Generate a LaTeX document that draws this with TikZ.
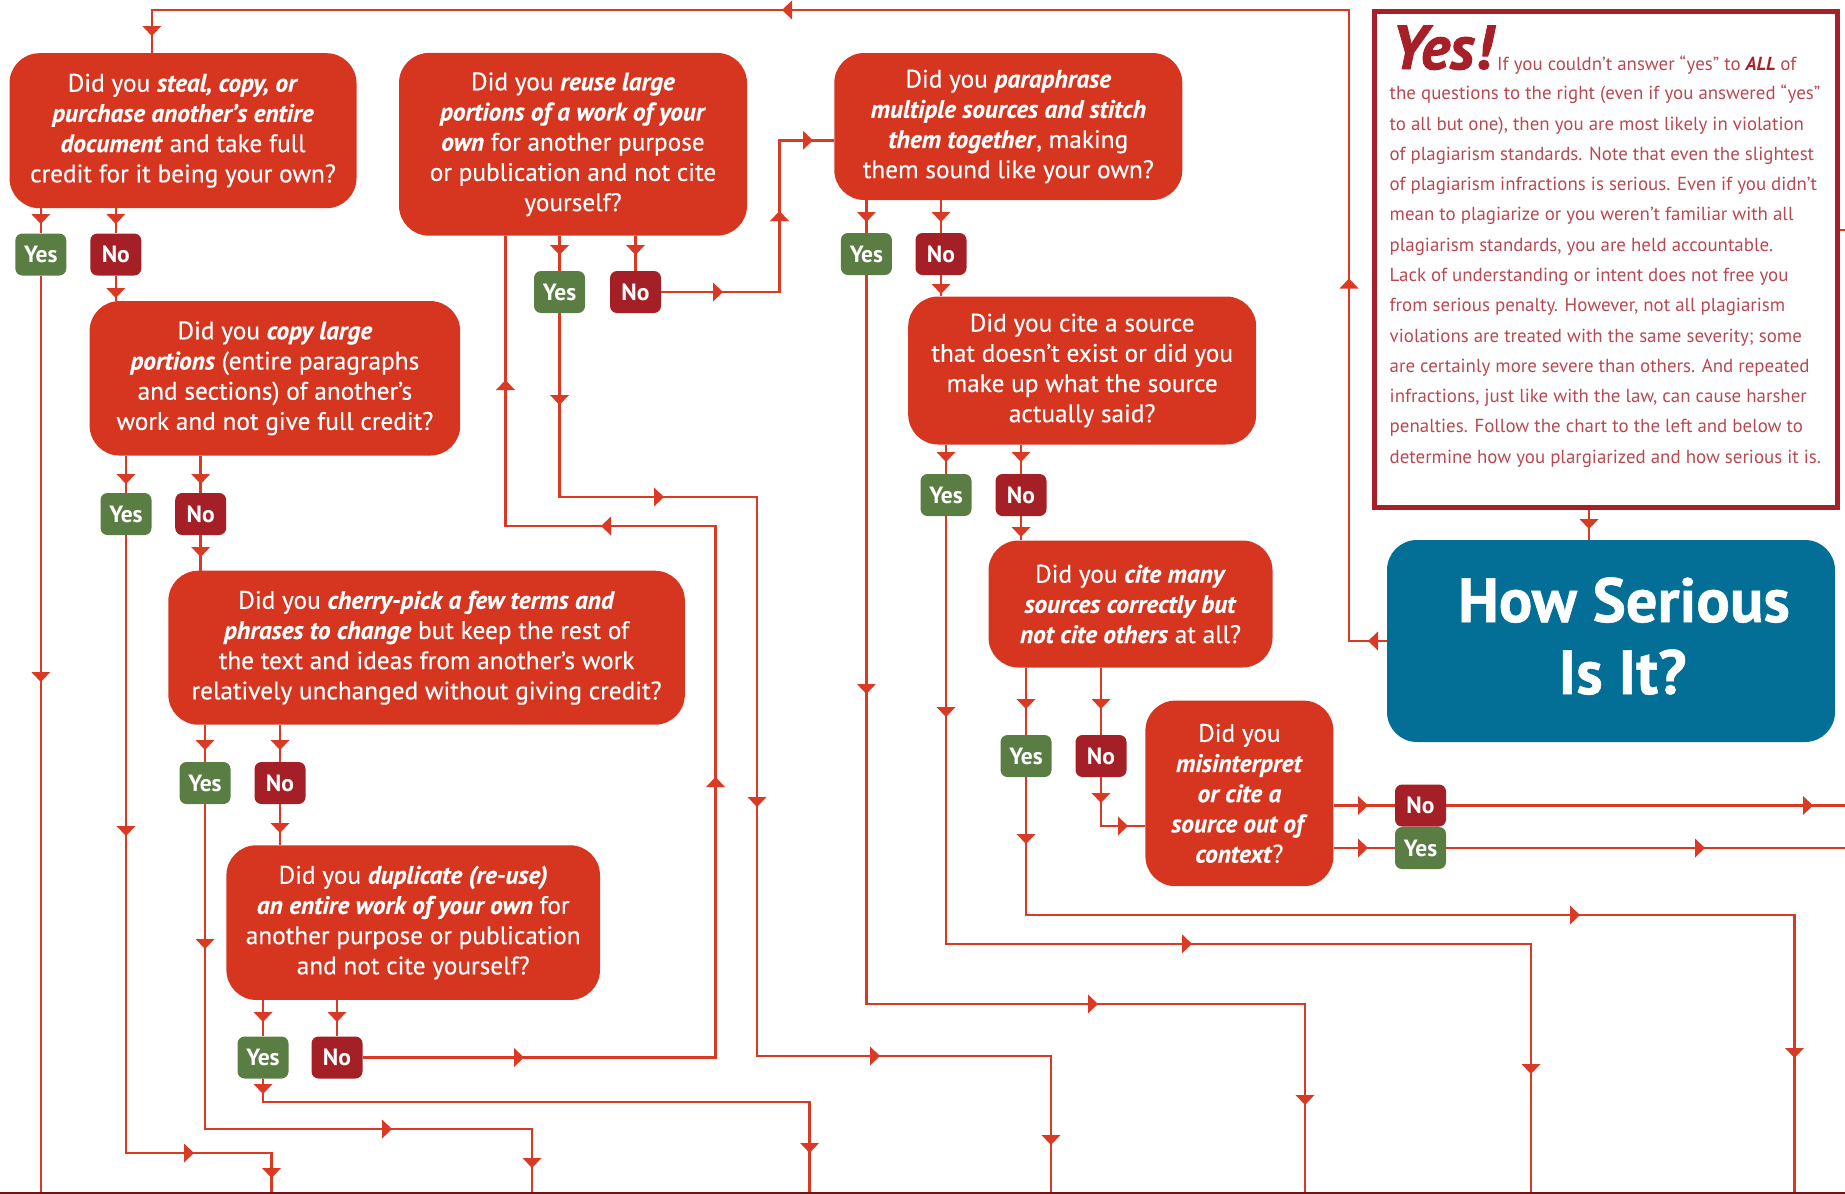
\documentclass[tikz,border=0pt]{standalone}
\usepackage{fontspec}
\setmainfont{PT Sans}
\definecolor{qred}{RGB}{214,53,32}
\definecolor{lred}{RGB}{218,58,36}
\definecolor{ygreen}{RGB}{90,125,68}
\definecolor{nred}{RGB}{164,31,38}
\definecolor{sblue}{RGB}{3,111,150}
\definecolor{bred}{RGB}{167,32,39}
\definecolor{ptext}{RGB}{184,72,82}
\definecolor{bdark}{RGB}{110,20,20}
\newcommand{\bi}[1]{\textbf{\textit{#1}}}
\tikzset{
  tipR/.pic={\fill[lred] (0,0) -- (-10,9.5) -- (-10,-9.5) -- cycle;}
}
\newcommand\tipD[1]{\pic[rotate=-90] at #1 {tipR};}
\newcommand\tipU[1]{\pic[rotate=90] at #1 {tipR};}
\newcommand\tipL[1]{\pic[rotate=180] at #1 {tipR};}
\newcommand\tipRt[1]{\pic at #1 {tipR};}
\begin{document}
\begin{tikzpicture}[x=1pt,y=-1pt,
  qbox/.style={rectangle, rounded corners=30pt, fill=qred, text=white, align=center, inner sep=0pt, font=\fontsize{25.3}{30.2}\selectfont\addfontfeature{FakeBold=0.3}},
  ans/.style={rectangle, rounded corners=7pt, minimum width=51pt, minimum height=42pt, inner sep=0pt, text=white, font=\fontsize{23.5}{26}\selectfont\bfseries},
  yesb/.style={ans, fill=ygreen},
  nob/.style={ans, fill=nred},
  conn/.style={draw=lred, line width=2.5pt},
  ptxt/.style={text=ptext, inner sep=0pt, font=\fontsize{18.9}{30.3}\selectfont},
  titletxt/.style={text=white, inner sep=0pt, font=\fontsize{62.5}{72}\selectfont\bfseries\addfontfeature{FakeBold=0.8}},
]
\useasboundingbox (0,0) rectangle (1845,1194);
\coordinate (bot) at (0,1194);
\coordinate (rt) at (1845,0);

% question boxes
\node[qbox, minimum width=347pt, minimum height=155pt] (q1) at (183,130.7)
  {Did you \bi{steal, copy, or}\\ \bi{purchase another’s entire}\\ \bi{document} and take full\\ credit for it being your own?};
\node[qbox, minimum width=370.6pt, minimum height=154.5pt] (q2) at (274.9,378.3)
  {Did you \bi{copy large}\\ \bi{portions} (entire paragraphs\\ and sections) of another’s\\ work and not give full credit?};
\node[qbox, minimum width=516.5pt, minimum height=154pt] (q3) at (426.6,647.7)
  {Did you \bi{cherry-pick a few terms and}\\ \bi{phrases to change} but keep the rest of\\ the text and ideas from another’s work\\ relatively unchanged without giving credit?};
\node[qbox, minimum width=373.6pt, minimum height=154.7pt] (q4) at (413.2,922.6)
  {Did you \bi{duplicate (re-use)}\\ \bi{an entire work of your own} for\\ another purpose or publication\\ and not cite yourself?};
\node[qbox, minimum width=348pt, minimum height=182.7pt] (q5) at (573,144.3)
  {Did you \bi{reuse large}\\ \bi{portions of a work of your}\\ \bi{own} for another purpose\\ or publication and not cite\\ yourself?};
\node[qbox, minimum width=348pt, minimum height=147pt] (q6) at (1008.3,126.5)
  {Did you \bi{paraphrase}\\ \bi{multiple sources and stitch}\\ \bi{them together}, making\\ them sound like your own?};
\node[qbox, minimum width=348pt, minimum height=148pt] (q7) at (1082.2,370.5)
  {Did you cite a source\\ that doesn’t exist or did you\\ make up what the source\\ actually said?};
\node[qbox, minimum width=284pt, minimum height=127pt] (q8) at (1130.5,604)
  {Did you \bi{cite many}\\ \bi{sources correctly but}\\ \bi{not cite others} at all?};
\node[qbox, minimum width=188pt, minimum height=185.6pt] (q9) at (1239.4,793.4)
  {Did you\\ \bi{misinterpret}\\ \bi{or cite a}\\ \bi{source out of}\\ \bi{context}?};

% answer boxes
\node[yesb] (yes1) at (40.8,254.5) {Yes};
\node[nob]  (no1)  at (115.8,254.5) {No};
\node[yesb] (yes2) at (126,514) {Yes};
\node[nob]  (no2)  at (200.7,514) {No};
\node[yesb] (yes3) at (205,783) {Yes};
\node[nob]  (no3)  at (280,783) {No};
\node[yesb] (yes4) at (263,1057.5) {Yes};
\node[nob]  (no4)  at (337,1057.5) {No};
\node[yesb] (yes5) at (559.5,292) {Yes};
\node[nob]  (no5)  at (635.5,292) {No};
\node[yesb] (yes6) at (866.4,254) {Yes};
\node[nob]  (no6)  at (941,254) {No};
\node[yesb] (yes7) at (946,495) {Yes};
\node[nob]  (no7)  at (1021,495) {No};
\node[yesb] (yes8) at (1026,756) {Yes};
\node[nob]  (no8)  at (1101,756) {No};
\node[nob]  (no9)  at (1420.5,805.5) {No};
\node[yesb] (yes9) at (1420.5,848) {Yes};

% info box
\node[draw=bred, line width=5pt, minimum width=463pt, minimum height=496pt, inner sep=0pt] (info) at (1606,259.5) {};
\node[anchor=base west, inner sep=0pt, text=bred, font=\fontsize{62}{64}\selectfont\bfseries\itshape\addfontfeature{FakeBold=1.6}] (yesw) at (1391,69) {Yes!};
\node[ptxt, anchor=base west] (p1) at (1497,70) {If you couldn’t answer “yes” to {\color{bred}\bi{ALL}} of};
\foreach \t [count=\i from 2] in {
  {the questions to the right (even if you answered “yes”},
  {to all but one), then you are most likely in violation},
  {of plagiarism standards. Note that even the slightest},
  {of plagiarism infractions is serious. Even if you didn’t},
  {mean to plagiarize or you weren’t familiar with all},
  {plagiarism standards, you are held accountable.},
  {Lack of understanding or intent does not free you},
  {from serious penalty. However, not all plagiarism},
  {violations are treated with the same severity; some},
  {are certainly more severe than others. And repeated},
  {infractions, just like with the law, can cause harsher},
  {penalties. Follow the chart to the left and below to},
  {determine how you plargiarized and how serious it is.}}
  \node[ptxt, anchor=base west] (p\i) at (1389.5,{69.5+30.28*(\i-1)}) {\t};

% title box
\node[fill=sblue, rounded corners=30pt, minimum width=448pt, minimum height=202pt, inner sep=0pt] (how) at (1611,641) {};
\node[titletxt, anchor=base] (howA) at (1624,622) {How Serious};
\node[titletxt, anchor=base] (howB) at (1622.5,694) {Is It?};

% coordinates for bends
\coordinate (c0a) at (1349,10);
\coordinate (c0b) at (151.8,10);
\coordinate (c1) at (1589,0);
\coordinate (c8) at (271.5,1153);
\coordinate (c12) at (532,1129);
\coordinate (c16) at (809.6,1102);
\coordinate (c17a) at (715.5,526);
\coordinate (c17b) at (505.5,526);
\coordinate (c20a) at (757,497);
\coordinate (c20b) at (1051,1056);
\coordinate (c21) at (779.5,140.3);
\coordinate (c24) at (1305,1004);
\coordinate (c28) at (1531,943.8);
\coordinate (c32) at (1794.5,915);
\coordinate (c33) at (1101,826);
\coordinate (c38) at (0,230);

% connectors
\draw[conn] (how.west) -| (c0a) -- (c0b) -- (c0b |- q1.north);
\draw[conn] (info.south -| c1) -- (how.north -| c1);
\draw[conn] (info.east |- c38) -- (rt |- c38);

\draw[conn] (yes1 |- q1.south) -- (yes1.north);
\draw[conn] (no1 |- q1.south) -- (no1.north);
\draw[conn] (yes1.south) -- (yes1 |- bot);
\draw[conn] (no1.south) -- (no1 |- q2.north);

\draw[conn] (yes2 |- q2.south) -- (yes2.north);
\draw[conn] (no2 |- q2.south) -- (no2.north);
\draw[conn] (yes2.south) |- (c8) -- (c8 |- bot);
\draw[conn] (no2.south) -- (no2 |- q3.north);

\draw[conn] (yes3 |- q3.south) -- (yes3.north);
\draw[conn] (no3 |- q3.south) -- (no3.north);
\draw[conn] (yes3.south) |- (c12) -- (c12 |- bot);
\draw[conn] (no3.south) -- (no3 |- q4.north);

\draw[conn] (yes4 |- q4.south) -- (yes4.north);
\draw[conn] (no4 |- q4.south) -- (no4.north);
\draw[conn] (yes4.south) |- (c16) -- (c16 |- bot);
\draw[conn] (no4.east) -| (c17a) -- (c17b) -- (c17b |- q5.south);

\draw[conn] (yes5 |- q5.south) -- (yes5.north);
\draw[conn] (no5 |- q5.south) -- (no5.north);
\draw[conn] (yes5.south) |- (c20a) |- (c20b) -- (c20b |- bot);
\draw[conn] (no5.east) -| (c21) -- (c21 -| q6.west);

\draw[conn] (yes6 |- q6.south) -- (yes6.north);
\draw[conn] (no6 |- q6.south) -- (no6.north);
\draw[conn] (yes6.south) |- (c24) -- (c24 |- bot);
\draw[conn] (no6.south) -- (no6 |- q7.north);

\draw[conn] (yes7 |- q7.south) -- (yes7.north);
\draw[conn] (no7 |- q7.south) -- (no7.north);
\draw[conn] (yes7.south) |- (c28) -- (c28 |- bot);
\draw[conn] (no7.south) -- (no7 |- q8.north);

\draw[conn] (yes8 |- q8.south) -- (yes8.north);
\draw[conn] (no8 |- q8.south) -- (no8.north);
\draw[conn] (yes8.south) |- (c32) -- (c32 |- bot);
\draw[conn] (no8.south) -- (c33) -- (c33 -| q9.west);

\draw[conn] (q9.east |- no9) -- (no9.west);
\draw[conn] (q9.east |- yes9) -- (yes9.west);
\draw[conn] (no9.east) -- (no9 -| rt);
\draw[conn] (yes9.east) -- (yes9 -| rt);

% bottom edge
\draw[draw=bdark, line width=1.6pt] (0,1193.2) -- (1845,1193.2);

% arrow tips
\tipL{(1368,641)} \tipU{(1349,278.5)} \tipL{(782,10)} \tipD{(151.8,36)}
\tipD{(1589,529)}
\tipD{(40.8,224)} \tipD{(115.8,224)} \tipD{(40.8,682)} \tipD{(115.8,298)}
\tipD{(126,484)} \tipD{(200.7,484)}
\tipD{(126,836)} \tipRt{(194,1153)} \tipD{(271.5,1178)}
\tipD{(200.7,557)}
\tipD{(205,750)} \tipD{(280,750)}
\tipD{(205,949)} \tipRt{(392,1129)} \tipD{(532,1168)}
\tipD{(280,833)}
\tipD{(263,1022)} \tipD{(337,1022)}
\tipD{(263,1094)} \tipD{(809.6,1153)}
\tipRt{(524,1057.5)} \tipU{(715.5,777)} \tipL{(601,526)} \tipU{(505.5,380)}
\tipD{(559.5,255)} \tipD{(635.5,255)}
\tipD{(559.5,405)} \tipRt{(664,497)} \tipD{(757,807)} \tipRt{(880,1056)} \tipD{(1051,1145)}
\tipRt{(723,292)} \tipU{(779.5,211)} \tipRt{(813,140.3)}
\tipD{(866.4,222)} \tipD{(941,222)}
\tipD{(866.4,694)} \tipRt{(1098,1004)} \tipD{(1305,1105)}
\tipD{(941,294)}
\tipD{(946,462)} \tipD{(1021,462)}
\tipD{(946,717)} \tipRt{(1192,943.8)} \tipD{(1531,1074)}
\tipD{(1021,537)}
\tipD{(1026,709)} \tipD{(1101,709)}
\tipD{(1026,844)} \tipRt{(1580,915)} \tipD{(1794.5,1058)}
\tipD{(1101,803)} \tipRt{(1128,826)}
\tipRt{(1368,805.5)} \tipRt{(1368,848)}
\tipRt{(1813,805.5)} \tipRt{(1705,848)}
\end{tikzpicture}
\end{document}
